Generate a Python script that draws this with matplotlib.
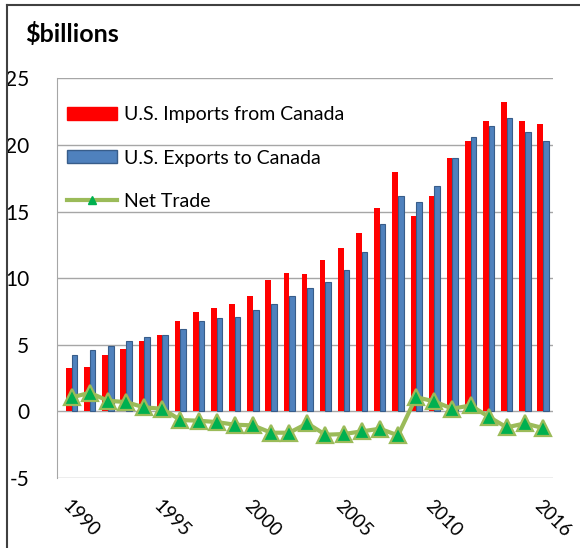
"""
U.S.-Canada trade: imports, exports and net trade, 1990-2016.
"""

import matplotlib
matplotlib.use('Agg')
import matplotlib.pyplot as plt
from matplotlib.patches import Patch
from matplotlib.lines import Line2D
import numpy as np

plt.rcParams['font.family'] = ['Lato', 'DejaVu Sans']
plt.rcParams['axes.unicode_minus'] = False

years = np.arange(1990, 2017)
imports = [3.25, 3.3, 4.2, 4.65, 5.3, 5.7, 6.8, 7.5, 7.8, 8.05, 8.7, 9.9, 10.4,
           10.3, 11.4, 12.3, 13.4, 15.3, 18.0, 14.7, 16.2, 19.0, 20.3, 21.8,
           23.2, 21.8, 21.6]
exports = [4.25, 4.6, 4.9, 5.3, 5.55, 5.75, 6.15, 6.8, 7.0, 7.1, 7.65, 8.1, 8.7,
           9.3, 9.7, 10.65, 12.0, 14.05, 16.2, 15.7, 16.9, 19.05, 20.6, 21.4,
           22.0, 21.0, 20.3]
net_trade = [1.05, 1.4, 0.8, 0.7, 0.3, 0.2, -0.65, -0.7, -0.8, -1.0, -1.05,
             -1.6, -1.6, -0.9, -1.75, -1.7, -1.5, -1.3, -1.8, 1.07, 0.75, 0.2,
             0.45, -0.4, -1.2, -0.9, -1.25]
tick_years = [1990, 1995, 2000, 2005, 2010, 2016]

RED = '#FF0000'
BLUE = '#4F81BD'
BLUE_EDGE = '#385D8A'
GREEN_LINE = '#9BBB59'
GREEN_FILL = '#00B050'
GRID = '#A6A6A6'

fig = plt.figure(figsize=(5.8, 5.48), dpi=100)
ax = fig.add_axes([57 / 580, 70 / 548, 496 / 580, 399.6 / 548])

w = 0.31
ax.bar(years - w / 2, imports, width=w, color=RED, zorder=2)
ax.bar(years + w / 2, exports, width=w, color=BLUE, edgecolor=BLUE_EDGE,
       linewidth=0.8, zorder=2)
ax.plot(years, net_trade, '-', color=GREEN_LINE, linewidth=3,
        marker='^', markersize=11, markerfacecolor=GREEN_FILL,
        markeredgecolor=GREEN_LINE, markeredgewidth=1.6, zorder=3)

ax.set_xlim(1989.19, 2016.55)
ax.set_ylim(-5, 25)
ax.set_yticks(range(-5, 26, 5))
ax.yaxis.grid(True, color=GRID, linewidth=1, zorder=0)
ax.set_axisbelow(True)
for side in ['top', 'right', 'bottom']:
    ax.spines[side].set_visible(False)
ax.spines['left'].set_color(GRID)
ax.tick_params(axis='y', length=0, pad=20, labelsize=15)

ax.set_xticks(tick_years)
ax.set_xticklabels([str(y) for y in tick_years], rotation=-45, ha='left',
                   va='top', rotation_mode='anchor', fontsize=13.5)
ax.tick_params(axis='x', length=0, pad=14)

handles = [Patch(facecolor=RED, edgecolor=RED),
           Patch(facecolor=BLUE, edgecolor=BLUE_EDGE),
           Line2D([], [], color=GREEN_LINE, linewidth=3, marker='^',
                  markersize=6, markerfacecolor=GREEN_FILL,
                  markeredgecolor=GREEN_FILL)]
labels = ['U.S. Imports from Canada', 'U.S. Exports to Canada', 'Net Trade']
ax.legend(handles, labels, loc='upper left', bbox_to_anchor=(0.02, 0.93),
          frameon=False, fontsize=14, handlelength=2.6, handleheight=0.65,
          labelspacing=1.35, handletextpad=0.35, borderpad=0,
          borderaxespad=0)

fig.text(25 / 580, 1 - 34 / 548, '$billions', fontsize=18, fontweight='bold',
         ha='left', va='center')

# outer frame (top and left edges only)
fig.add_artist(Line2D([7 / 580, 1], [1 - 5 / 548, 1 - 5 / 548],
                      color='#404040', linewidth=1.5))
fig.add_artist(Line2D([7 / 580, 7 / 580], [0, 1 - 5 / 548],
                      color='#404040', linewidth=1.5))

plt.savefig('out.png', dpi=100)
plt.close()
